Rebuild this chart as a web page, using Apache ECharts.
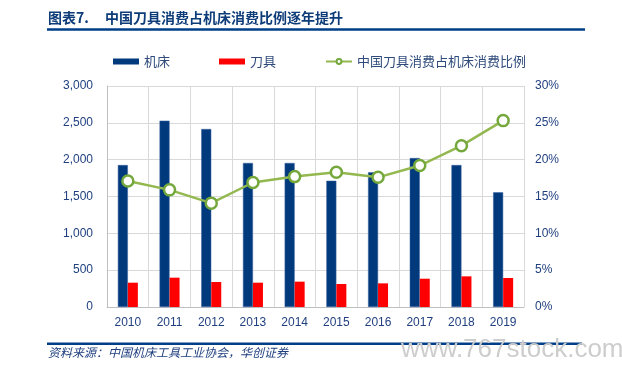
<!DOCTYPE html>
<html><head><meta charset="utf-8">
<script src="https://cdn.jsdelivr.net/npm/echarts@6/dist/echarts.min.js"></script>
<style>html,body{margin:0;padding:0;background:#fff}#c{width:622px;height:378px}</style>
</head><body><div id="c"></div>
<script>
const years = ['2010','2011','2012','2013','2014','2015','2016','2017','2018','2019'];
const machineTool = [1927,2529,2416,1955,1955,1714,1828,2022,1927,1557];
const cuttingTool = [330,398,339,330,344,312,321,384,416,394];
const ratio = [17.1,15.9,14.1,16.9,17.7,18.3,17.6,19.2,21.9,25.3];

const chart = echarts.init(document.getElementById('c'));
const axisColor = '#1f3f7f';
chart.setOption({
  animation:false,
  textStyle:{fontFamily:'Liberation Sans, Arial, sans-serif'},
  graphic:[
    {type:'text', left:48, top:11, style:{text:'图表7.', font:'bold 14px "Noto Sans CJK SC"', fill:'#0d3c78'}},
    {type:'text', left:105, top:11, style:{text:'中国刀具消费占机床消费比例逐年提升', font:'bold 14px "Noto Sans CJK SC"', fill:'#0d3c78'}},
    {type:'rect', shape:{x:47,y:28.3,width:538,height:2.5}, style:{fill:'#003f87'}},
    {type:'rect', shape:{x:47,y:342.5,width:535,height:2.5}, style:{fill:'#003f87'}},
    {type:'text', left:48, top:346, style:{text:'资料来源：中国机床工具工业协会，华创证券', font:'italic 12px "Noto Sans CJK SC"', fill:'#1f3f7f'}},
    {type:'text', left:401, top:337, style:{text:'www.767stock.com', font:'26px "Liberation Sans"', fill:'#cdcdcd'}}
  ],
  legend:{left:113, top:55, itemGap:49, itemWidth:26, itemHeight:6, padding:0,
    textStyle:{fontFamily:'Noto Sans CJK SC', fontSize:13, color:'#2f4b7c'},
    data:[{name:'机床',icon:'rect',itemStyle:{borderWidth:0}},{name:'刀具',icon:'rect',itemStyle:{borderWidth:0}},'中国刀具消费占机床消费比例']},
  grid:{left:107, right:98, top:86, bottom:71},
  xAxis:{type:'category', data:years,
    axisLine:{lineStyle:{color:'#bfbfbf'}}, axisTick:{show:false},
    axisLabel:{color:axisColor, fontSize:12, margin:10},
    splitLine:{show:true, lineStyle:{color:'#d9d9d9'}}},
  yAxis:[
    {type:'value', min:0, max:3000, interval:500,
     axisLine:{show:true, lineStyle:{color:'#bfbfbf'}},
     axisLabel:{color:axisColor, fontSize:12, margin:14, formatter:v=>v.toLocaleString('en-US')},
     splitLine:{lineStyle:{color:'#d9d9d9'}}},
    {type:'value', min:0, max:30, interval:5,
     axisLine:{show:false}, axisLabel:{color:axisColor, fontSize:12, margin:11, formatter:'{value}%'},
     splitLine:{show:false}}
  ],
  series:[
    {name:'机床', type:'bar', data:machineTool, barWidth:10, barGap:'0%',
     itemStyle:{color:'#003a7d', borderColor:'#3a63a0', borderWidth:0.5}},
    {name:'刀具', type:'bar', data:cuttingTool, barWidth:10,
     itemStyle:{color:'#ff0000'}},
    {name:'中国刀具消费占机床消费比例', type:'line', yAxisIndex:1, data:ratio,
     symbol:'circle', symbolSize:11,
     lineStyle:{color:'#93b84f', width:2.5},
     itemStyle:{color:'#fff', borderColor:'#74a83c', borderWidth:2.5}}
  ]
});
</script></body></html>
